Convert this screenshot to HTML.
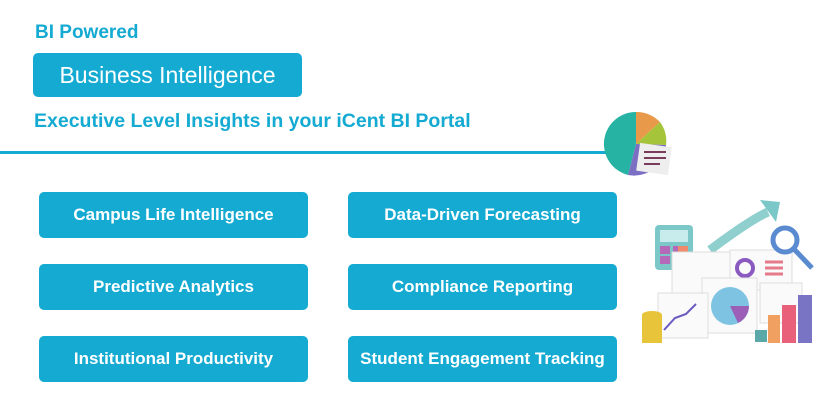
<!DOCTYPE html>
<html><head><style>
body{margin:0;width:840px;height:420px;background:#fff;position:relative;overflow:hidden;font-family:"Liberation Sans",sans-serif}
.a{position:absolute}
.b{position:absolute;width:269px;height:46px;background:#14aad2;border-radius:5px;color:#fff;font-weight:bold;font-size:17px;display:flex;align-items:center;justify-content:center;white-space:nowrap}
</style></head><body>
<div class="a" style="left:35px;top:22px;color:#14aad2;font-weight:bold;font-size:19px">BI Powered</div>
<div class="a" style="left:33px;top:53px;width:269px;height:44px;background:#14aad2;border-radius:5px;color:#fff;font-size:23px;display:flex;align-items:center;justify-content:center">Business Intelligence</div>
<div class="a" style="left:34px;top:110px;color:#14aad2;font-weight:bold;font-size:19.5px;white-space:nowrap">Executive Level Insights in your iCent BI Portal</div>
<div class="a" style="left:0;top:151px;width:612px;height:3px;background:#14aad2"></div>
<div class="b" style="left:39px;top:192px">Campus Life Intelligence</div>
<div class="b" style="left:348px;top:192px">Data-Driven Forecasting</div>
<div class="b" style="left:39px;top:264px">Predictive Analytics</div>
<div class="b" style="left:348px;top:264px">Compliance Reporting</div>
<div class="b" style="left:39px;top:336px">Institutional Productivity</div>
<div class="b" style="left:348px;top:336px">Student Engagement Tracking</div>
<svg class="a" style="left:600px;top:100px" width="240" height="260" viewBox="0 0 240 260">
<path d="M36,12 L36,44 L60,22 A32,32 0 0 0 36,12Z" fill="#e89a4a"/>
<path d="M36,44 L60,22 A32,32 0 0 1 66,45Z" fill="#a6c43a"/>
<path d="M36,44 L66,45 A32,32 0 0 1 28,75Z" fill="#7b6fc4"/>
<path d="M36,44 L28,75 A32,32 0 0 1 36,12Z" fill="#26b3a4"/>
<rect x="38" y="45" width="32" height="28" fill="#eee" transform="rotate(8 54 59)"/>
<path d="M44 52h22M44 58h22M44 64h16" stroke="#7a3b5a" stroke-width="2"/>
<path d="M110,150 Q150,120 168,112" stroke="#8fd0cf" stroke-width="9" fill="none"/>
<polygon points="160,100 180,102 176,122" fill="#7cc8c8"/>
<rect x="55" y="125" width="38" height="45" rx="4" fill="#7cc8c8"/>
<rect x="60" y="130" width="28" height="12" fill="#c8ecec"/>
<rect x="60" y="146" width="10" height="8" fill="#b46ab8"/><rect x="73" y="146" width="10" height="8" fill="#b46ab8"/>
<rect x="60" y="156" width="10" height="8" fill="#b46ab8"/><rect x="78" y="146" width="10" height="20" fill="#f08a6a"/>
<rect x="72" y="152" width="62" height="50" fill="#fafafa" stroke="#ddd"/>
<rect x="130" y="150" width="62" height="40" fill="#fafafa" stroke="#ddd"/>
<circle cx="145" cy="168" r="8" fill="none" stroke="#8a5ac0" stroke-width="4"/>
<path d="M165 162h18M165 168h18M165 174h18" stroke="#e67a8a" stroke-width="3"/>
<circle cx="185" cy="140" r="12" fill="none" stroke="#5a8ad0" stroke-width="5"/>
<path d="M193 148 L212 168" stroke="#5a8ad0" stroke-width="5"/>
<rect x="102" y="178" width="55" height="55" fill="#fafafa" stroke="#ddd"/>
<circle cx="130" cy="206" r="19" fill="#7ec4e2"/><path d="M130 206 L149 206 A19 19 0 0 1 138 223Z" fill="#9b5fb8"/>
<rect x="160" y="183" width="42" height="40" fill="#fafafa" stroke="#ddd"/>
<rect x="58" y="193" width="50" height="45" fill="#fafafa" stroke="#ddd"/>
<polyline points="64,230 75,218 86,214 96,204" stroke="#6a5ac0" stroke-width="2" fill="none"/>
<ellipse cx="52" cy="215" rx="10" ry="4" fill="#e8c43a"/><rect x="42" y="215" width="20" height="28" fill="#e8c43a"/>
<rect x="155" y="230" width="12" height="12" fill="#5aa8a8"/>
<rect x="168" y="215" width="12" height="28" fill="#f0a060"/>
<rect x="182" y="205" width="14" height="38" fill="#e8607a"/>
<rect x="198" y="195" width="14" height="48" fill="#7a74c4"/>
</svg>
</body></html>
